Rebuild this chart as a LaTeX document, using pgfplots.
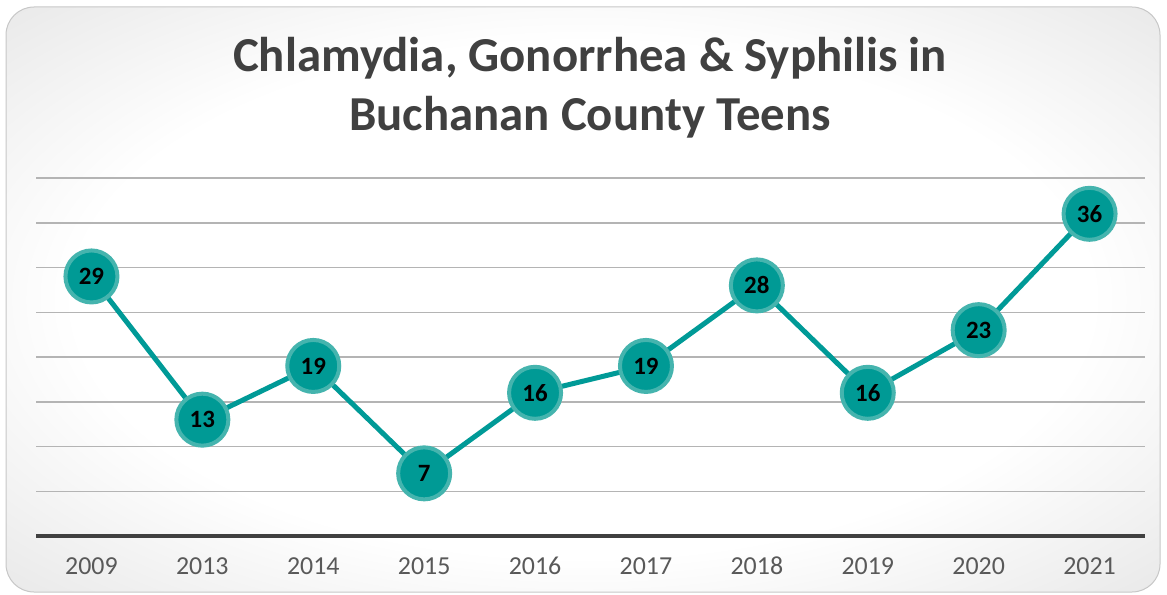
\documentclass[border=0pt]{standalone}
\usepackage{pgfplots}
\pgfplotsset{compat=1.18}
\usepackage{fontspec}
\setmainfont{Carlito}
\definecolor{tealfill}{HTML}{009A95}
\definecolor{tealedge}{HTML}{45B4AE}
\definecolor{tealline}{HTML}{009A97}
\definecolor{gridc}{HTML}{B4B4B4}
\definecolor{axisc}{HTML}{404040}
\definecolor{tickc}{HTML}{595959}
\definecolor{titlec}{HTML}{404040}
\pgfdeclareradialshading{bgshade}{\pgfpoint{0bp}{0bp}}{color(0bp)=(white); color(22bp)=(white); color(50bp)=(black!18); color(72bp)=(black!26)}
\begin{document}
\begin{tikzpicture}[x=1bp,y=1bp]
\useasboundingbox (0,0) rectangle (583.5,297);
\shade[shading=bgshade, draw=black!22, line width=0.5bp, rounded corners=14bp] (3,1) rectangle (580,293.5);
\node[font=\fontsize{24.5}{29.5}\selectfont\bfseries, text=titlec, align=center] at (295,253) {Chlamydia, Gonorrhea \& Syphilis in\\Buchanan County Teens};
\begin{axis}[
  at={(18bp,29bp)}, anchor=south west,
  scale only axis, width=554.5bp, height=179bp,
  xmin=-0.5, xmax=9.5, ymin=0, ymax=40,
  clip=false,
  axis lines*=left,
  y axis line style={draw=none},
  x axis line style={axisc, line width=2bp, -},
  ytick={5,10,...,40}, yticklabels={},
  ymajorgrids, grid style={gridc, line width=0.75bp},
  xtick={0,...,9},
  xticklabels={2009,2013,2014,2015,2016,2017,2018,2019,2020,2021},
  major tick length=0pt,
  xticklabel style={text=tickc, font=\fontsize{13}{13}\selectfont, text height=9.5bp, text depth=0pt, yshift=-6bp},
  /pgf/number format/assume math mode=true,
]
\addplot[tealline, line width=2.5bp, mark=*, mark size=13bp,
  mark options={fill=tealfill, draw=tealedge, line width=2bp},
  nodes near coords, point meta=explicit symbolic,
  every node near coord/.append style={anchor=center, font=\bfseries\fontsize{12.5}{12.5}\selectfont, text=black}]
  coordinates {
  (0,29) [29] (1,13) [13] (2,19) [19] (3,7) [7] (4,16) [16]
  (5,19) [19] (6,28) [28] (7,16) [16] (8,23) [23] (9,36) [36]
  };
\end{axis}
\end{tikzpicture}
\end{document}
